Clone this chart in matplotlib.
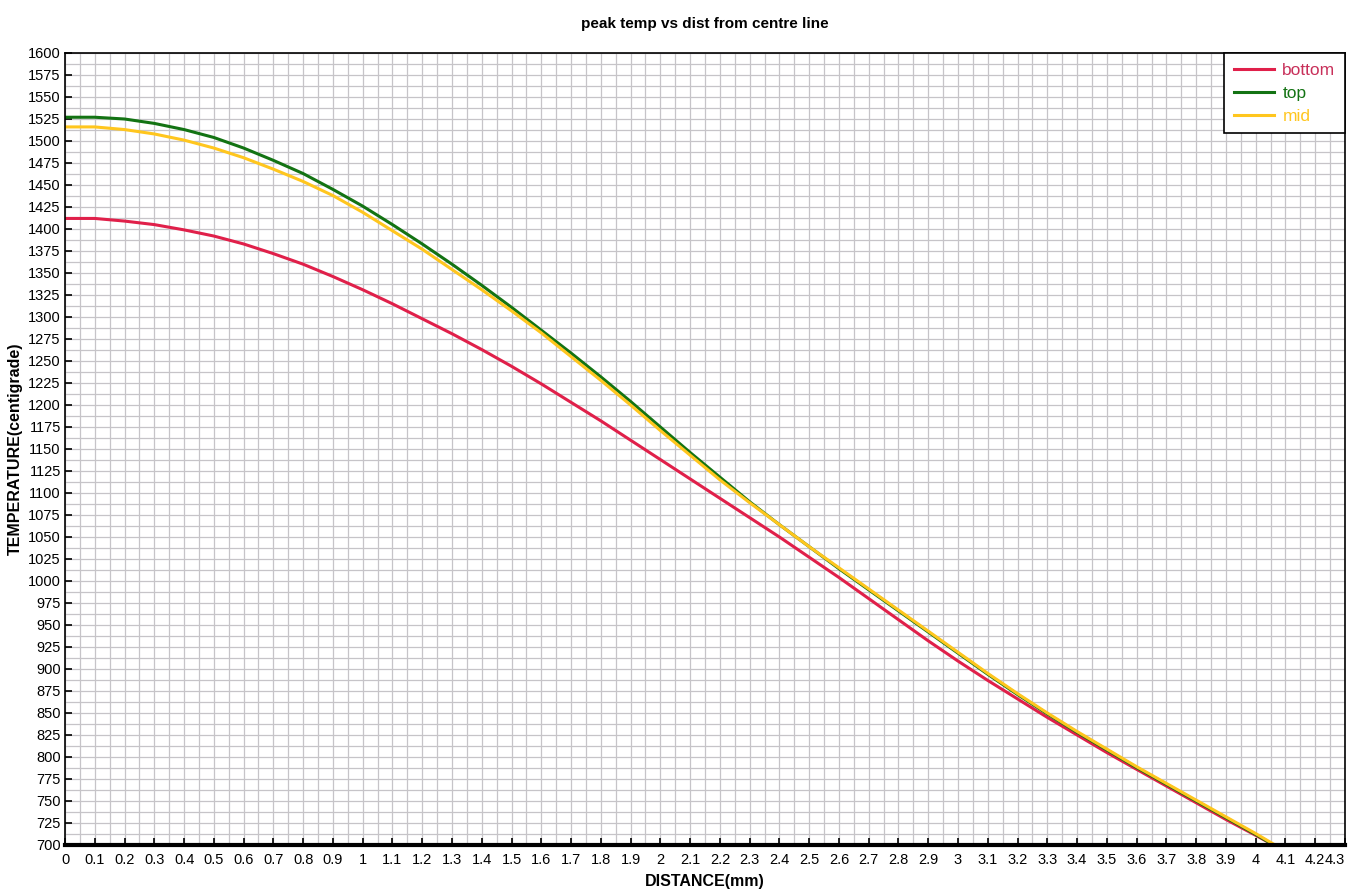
import numpy as np
import matplotlib.pyplot as plt
from matplotlib.ticker import MultipleLocator, FixedLocator

# distance from centre line (mm)
dist = [0, 0.1, 0.2, 0.3, 0.4, 0.5, 0.6, 0.7, 0.8, 0.9, 1.0,
        1.1, 1.2, 1.3, 1.4, 1.5, 1.6, 1.7, 1.8, 1.9, 2.0,
        2.1, 2.2, 2.3, 2.4, 2.5, 2.6, 2.7, 2.8, 2.9, 3.0,
        3.1, 3.2, 3.3, 3.4, 3.5, 3.6, 3.7, 3.8, 3.9, 4.0, 4.06]

temp_bottom = [1412, 1412, 1409, 1405, 1399, 1392, 1383, 1372, 1360, 1346, 1331,
               1315, 1298, 1281, 1263, 1244, 1224, 1203, 1182, 1160, 1138,
               1116, 1094, 1072, 1050, 1027, 1004, 980, 956, 932, 909,
               887, 866, 845, 825, 805, 786, 767, 748, 729, 711, 700]

temp_top = [1527, 1527, 1525, 1520, 1513, 1504, 1492, 1478, 1463, 1445, 1426,
            1405, 1383, 1360, 1336, 1311, 1285, 1259, 1232, 1204, 1175,
            1146, 1118, 1090, 1064, 1039, 1014, 990, 966, 942, 918,
            894, 871, 849, 828, 808, 788, 769, 750, 731, 712, 700]

temp_mid = [1516, 1516, 1513, 1508, 1501, 1492, 1481, 1468, 1454, 1438, 1419,
            1398, 1377, 1354, 1331, 1307, 1282, 1255, 1228, 1200, 1171,
            1143, 1115, 1089, 1064, 1039, 1015, 991, 967, 943, 919,
            895, 872, 850, 829, 809, 789, 770, 751, 732, 713, 701]

plt.rcParams['font.family'] = ['Liberation Sans', 'DejaVu Sans']

fig = plt.figure(figsize=(13.49, 8.94), dpi=100)
ax = fig.add_axes([65/1349, 49/894, 1280/1349, 792/894])

ax.plot(dist, temp_bottom, color='#e0204a', lw=2.2, label='bottom')
ax.plot(dist, temp_top, color='#137313', lw=2.2, label='top')
ax.plot(dist, temp_mid, color='#ffc61e', lw=2.2, label='mid')

ax.set_xlim(0, 4.3)
ax.set_ylim(700, 1600)
xt = np.round(np.arange(0, 4.31, 0.1), 2)
ax.xaxis.set_major_locator(FixedLocator(xt))
ax.set_xticklabels([f'{v:g}' for v in xt])
ax.get_xticklabels()[-1].set_horizontalalignment('right')
ax.xaxis.set_minor_locator(MultipleLocator(0.05))
ax.yaxis.set_major_locator(MultipleLocator(25))
ax.yaxis.set_minor_locator(MultipleLocator(12.5))
ax.grid(which='both', color='#c6c4c8', lw=0.9)
ax.set_axisbelow(True)
ax.tick_params(which='major', direction='in', length=5, width=1.2, labelsize=10.5)
ax.tick_params(axis='x', pad=6)
ax.tick_params(axis='y', pad=3)
ax.tick_params(which='minor', length=0)

for s in ['top', 'left', 'right']:
    ax.spines[s].set_linewidth(1.2)
ax.spines['bottom'].set_linewidth(3)

ax.set_xlabel('DISTANCE(mm)', fontsize=11.5, fontweight='bold', labelpad=5)
ax.set_ylabel('TEMPERATURE(centigrade)', fontsize=11.5, fontweight='bold')
ax.yaxis.set_label_coords(-0.033, 0.5)
ax.set_title('peak temp vs dist from centre line', fontsize=11, fontweight='bold', pad=18)

leg = ax.legend(loc='upper right', fancybox=False, edgecolor='black', framealpha=1,
                fontsize=12.5, borderaxespad=0, handlelength=2.3, handletextpad=0.5,
                labelspacing=0.45, borderpad=0.55)
leg.get_frame().set_linewidth(1.2)
for txt, c in zip(leg.get_texts(), ['#c8305a', '#137313', '#ffc61e']):
    txt.set_color(c)

plt.savefig('out.png', dpi=100)
